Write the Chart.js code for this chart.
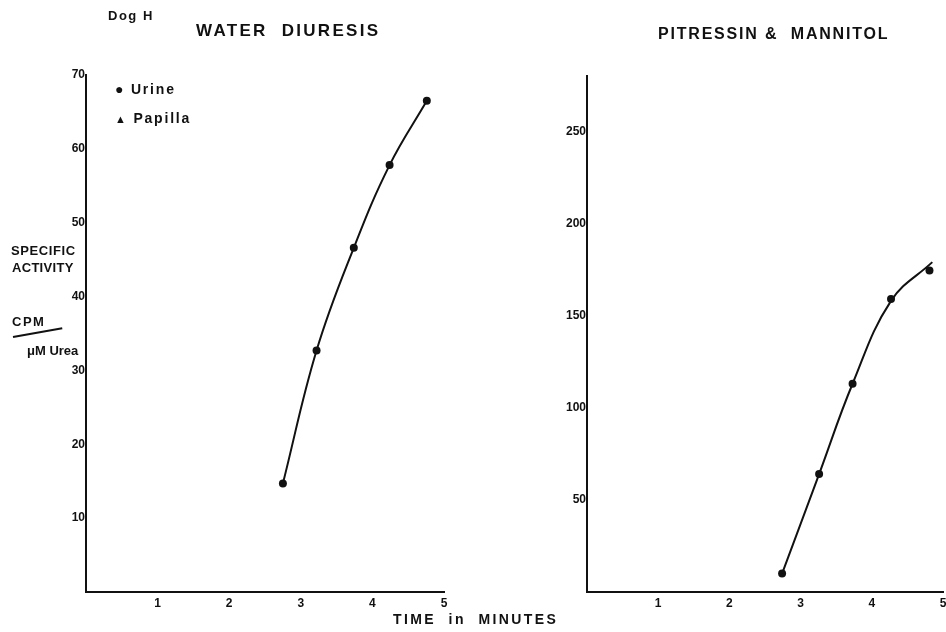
<!DOCTYPE html>
<html>
<head>
<meta charset="utf-8">
<script src="https://cdn.jsdelivr.net/npm/chart.js@4"></script>
<style>
  html, body { margin:0; padding:0; background:#fff; }
  body { width:946px; height:632px; position:relative; overflow:hidden;
         font-family:"Liberation Sans", Arial, sans-serif; font-weight:bold; color:#111; }
  canvas { position:absolute; top:0; }
  #c1 { left:0; }
  #c2 { left:473px; }
  .t { position:absolute; white-space:nowrap; line-height:1; }
</style>
</head>
<body>
<canvas id="c1" width="480" height="632" style="width:480px;height:632px"></canvas>
<canvas id="c2" width="490" height="632" style="width:490px;height:632px"></canvas>

<div class="t" style="left:108px;top:9px;font-size:13px;letter-spacing:1.5px;">Dog H</div>
<div class="t" style="left:196px;top:22px;font-size:17px;letter-spacing:2.3px;">WATER&nbsp; DIURESIS</div>
<div class="t" style="left:658px;top:26px;font-size:16px;letter-spacing:1.8px;">PITRESSIN &amp;&nbsp; MANNITOL</div>

<div class="t" style="left:115px;top:82px;font-size:14px;letter-spacing:1.8px;">&#9679; Urine</div>
<div class="t" style="left:115px;top:111px;font-size:14px;letter-spacing:1.8px;"><span style="font-size:11px">&#9650;</span> Papilla</div>

<div class="t" style="left:11px;top:244px;font-size:13px;letter-spacing:0.6px;">SPECIFIC</div>
<div class="t" style="left:12px;top:261px;font-size:13px;letter-spacing:0.3px;">ACTIVITY</div>
<div class="t" style="left:12px;top:315px;font-size:13px;letter-spacing:1.5px;">CPM</div>
<div style="position:absolute;left:13px;top:336px;width:50px;height:2px;background:#111;transform:rotate(-10deg);transform-origin:left center;"></div>
<div class="t" style="left:27px;top:344px;font-size:13px;">&mu;M Urea</div>

<div class="t" style="left:393px;top:612px;font-size:14px;letter-spacing:2.4px;">TIME&nbsp; in&nbsp; MINUTES</div>

<script>
// Water diuresis (left panel)
const waterTime = [2.75, 3.22, 3.74, 4.24, 4.76];
const waterUrine = [14.7, 32.7, 46.6, 57.8, 66.5];
const waterPapillaTime = [5.21];
const waterPapilla = [64.3];
const waterYTicks = [10, 20, 30, 40, 50, 60, 70];

// Pitressin & mannitol (right panel)
const pitTime = [2.74, 3.26, 3.73, 4.27, 4.81];
const pitUrine = [10, 64, 113, 159, 174.5];
const pitCurveTime = [2.74, 3.26, 3.73, 4.27, 4.85];
const pitCurve = [10, 64, 113, 158, 179];
const pitYTicks = [50, 100, 150, 200, 250];

const xTicks = [1, 2, 3, 4, 5];

function pts(xs, ys){ return xs.map((x, i) => ({x, y: ys[i]})); }

const tickFont = {family: '"Liberation Sans", Arial, sans-serif', size: 12, weight: 'bold'};

function makeChart(id, datasets, yMax, yTicks, pad){
  return new Chart(document.getElementById(id), {
    type: 'line',
    data: { datasets },
    options: {
      responsive: false,
      animation: false,
      layout: { padding: pad },
      plugins: { legend: {display:false}, tooltip: {enabled:false} },
      scales: {
        x: {
          type: 'linear', min: 0, max: 5,
          afterBuildTicks: s => { s.ticks = xTicks.map(v => ({value: v})); },
          afterFit: s => { s.height = 20; },
          grid: { display: false, drawTicks: false },
          border: { display: true, color: '#111', width: 2 },
          ticks: { color: '#111', font: tickFont, padding: 4, maxRotation: 0 }
        },
        y: {
          type: 'linear', min: 0, max: yMax,
          afterBuildTicks: s => { s.ticks = yTicks.map(v => ({value: v})); },
          afterFit: s => { s.width = 40; },
          grid: { display: false, drawTicks: false },
          border: { display: true, color: '#111', width: 2 },
          ticks: { color: '#111', font: tickFont, padding: 1 }
        }
      }
    }
  });
}

makeChart('c1', [
  { data: pts(waterTime, waterUrine), borderColor: '#111', borderWidth: 2,
    tension: 0.4, pointRadius: 4, pointBackgroundColor: '#111',
    pointBorderWidth: 0, clip: false },
  { data: pts(waterPapillaTime, waterPapilla), showLine: false, pointStyle: 'triangle',
    pointRadius: 5, pointBackgroundColor: '#111', pointBorderWidth: 0, clip: false }
], 70, waterYTicks, {left: 46, right: 36, top: 75, bottom: 20});

makeChart('c2', [
  { data: pts(pitCurveTime, pitCurve), borderColor: '#111', borderWidth: 2,
    tension: 0.4, pointRadius: 0, clip: false },
  { data: pts(pitTime, pitUrine), showLine: false, pointRadius: 4,
    pointBackgroundColor: '#111', pointBorderWidth: 0, clip: false }
], 280, pitYTicks, {left: 74, right: 20, top: 76, bottom: 20});
</script>
</body>
</html>
